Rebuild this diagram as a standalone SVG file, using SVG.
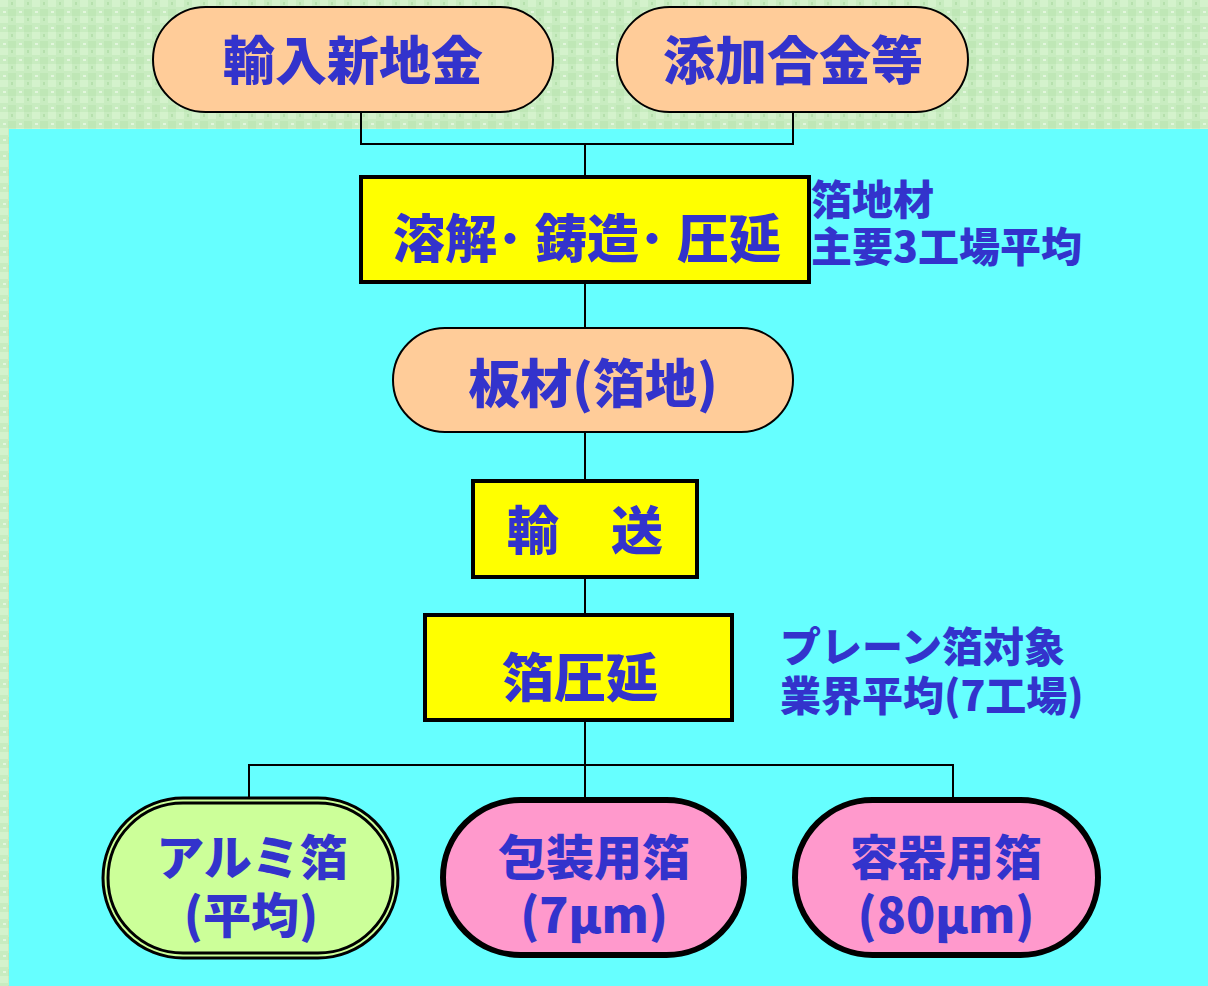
<svg xmlns="http://www.w3.org/2000/svg" width="1208" height="986" viewBox="0 0 1208 986">
<defs>
<pattern id="tex" width="16" height="16" patternUnits="userSpaceOnUse">
<rect width="16" height="16" fill="#c8ecc0"/>
<rect x="0" y="0" width="8" height="7" fill="#d4f2cc"/>
<rect x="8" y="9" width="8" height="7" fill="#bfe7b6"/>
<rect x="3" y="11" width="3" height="2" fill="#e2f6dd"/>
<rect x="11" y="2" width="2" height="3" fill="#b6e0ad"/>
</pattern>
<style>
.t{font-family:"Noto Sans CJK JP","Liberation Sans",sans-serif;font-weight:900;fill:#3333CC;}
.big{font-size:52px;text-anchor:middle;}
.two{font-size:48px;text-anchor:middle;}
.lab{font-size:41px;}
.pill{fill:#FFCC99;stroke:#000;stroke-width:2;}
.box{fill:#FFFF00;stroke:#000;stroke-width:4;}
.ln{fill:none;stroke:#000;stroke-width:2;}
</style>
</defs>
<rect width="1208" height="986" fill="url(#tex)"/>
<rect x="9" y="129" width="1199" height="857" fill="#66FFFF"/>
<g id="connectors">
<polyline class="ln" points="361,112 361,144 793,144 793,112"/>
<line class="ln" x1="585" y1="144" x2="585" y2="177"/>
<line class="ln" x1="585" y1="282" x2="585" y2="328"/>
<line class="ln" x1="585" y1="432" x2="585" y2="481"/>
<line class="ln" x1="585" y1="577" x2="585" y2="615"/>
<line class="ln" x1="585" y1="720" x2="585" y2="765"/>
<polyline class="ln" points="249,800 249,765 953,765 953,800"/>
<line class="ln" x1="585" y1="765" x2="585" y2="800"/>
</g>
<g id="n1"><rect class="pill" x="153" y="7" width="400" height="105" rx="52.5"/><text class="t big" x="353" y="80">輸入新地金</text></g>
<g id="n2"><rect class="pill" x="617" y="7" width="351" height="105" rx="52.5"/><text class="t big" x="793" y="80">添加合金等</text></g>
<g id="n3"><rect class="box" x="361" y="177" width="448" height="105"/><text class="t big" x="587" y="258" xml:space="preserve">溶解･ 鋳造･ 圧延</text></g>
<g id="l1"><text class="t lab" x="811" y="215">箔地材<tspan x="811" dy="47">主要3工場平均</tspan></text></g>
<g id="n4"><rect class="pill" x="393" y="328" width="400" height="104" rx="52"/><text class="t big" x="593" y="403">板材(箔地)</text></g>
<g id="n5"><rect class="box" x="473" y="481" width="224" height="96"/><text class="t big" x="585" y="550" xml:space="preserve">輸　送</text></g>
<g id="n6"><rect class="box" x="425" y="615" width="307" height="105"/><text class="t big" x="580" y="697">箔圧延</text></g>
<g id="l2"><text class="t lab" x="780" y="662">プレーン箔対象<tspan x="780" dy="49">業界平均(7工場)</tspan></text></g>
<g id="n7"><rect x="103" y="798" width="295" height="160" rx="80" fill="#CCFF99" stroke="#000" stroke-width="3"/><rect x="108" y="803" width="285" height="150" rx="75" fill="none" stroke="#000" stroke-width="3"/><text class="t two" x="252" y="875">アルミ箔<tspan x="251" dy="58">(平均)</tspan></text></g>
<g id="n8"><rect x="443" y="800" width="301" height="155" rx="77.5" fill="#FF99CC" stroke="#000" stroke-width="6"/><text class="t two" x="594" y="875">包装用箔<tspan x="594" dy="58">(7μm)</tspan></text></g>
<g id="n9"><rect x="795" y="800" width="303" height="155" rx="77.5" fill="#FF99CC" stroke="#000" stroke-width="6"/><text class="t two" x="946" y="875">容器用箔<tspan x="946" dy="58">(80μm)</tspan></text></g>
</svg>
